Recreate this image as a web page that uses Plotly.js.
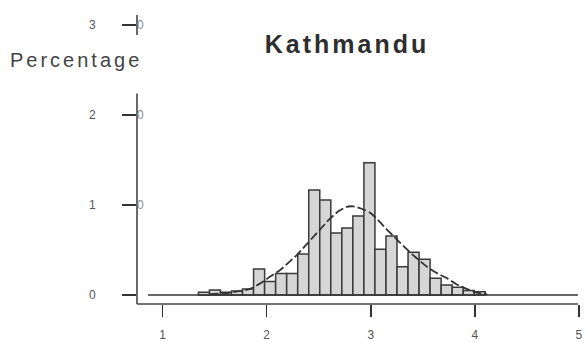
<!DOCTYPE html>
<html>
<head>
<meta charset="utf-8">
<script src="https://cdn.plot.ly/plotly-3.0.1.min.js"></script>
<style>
html,body{margin:0;padding:0;background:#fff;}
#chart{width:586px;height:342px;}
.gtitle{letter-spacing:3px;}
</style>
</head>
<body>
<div id="chart"></div>
<script>
// Histogram bins (centres) and heights (percentage)
const binCenters = [1.397,1.503,1.609,1.715,1.821,1.927,2.033,2.139,2.245,2.351,2.457,2.563,2.669,2.775,2.881,2.987,3.093,3.199,3.305,3.411,3.517,3.623,3.729,3.835,3.941,4.047];
const binHeights = [0.03,0.055,0.03,0.044,0.066,0.29,0.15,0.24,0.24,0.456,1.167,1.056,0.69,0.744,0.878,1.47,0.508,0.656,0.314,0.474,0.397,0.186,0.11,0.086,0.05,0.035];
const binWidth = 0.106;

// Fitted normal curve
const curveX = [1.45,1.6,1.72,1.84,1.94,2.03,2.13,2.21,2.29,2.37,2.45,2.53,2.61,2.69,2.77,2.83,2.87,2.94,3.0,3.08,3.16,3.24,3.32,3.43,3.54,3.64,3.74,3.84,3.94,4.04,4.12];
const curveY = [0.01,0.02,0.04,0.067,0.13,0.203,0.278,0.36,0.444,0.545,0.648,0.75,0.852,0.93,0.98,0.985,0.974,0.945,0.908,0.82,0.72,0.63,0.537,0.42,0.314,0.24,0.18,0.11,0.06,0.02,0.008];

// Zero baseline
const baseX = [0.86, 4.99];
const baseY = [0, 0];

const xTicks = [1,2,3,4,5];
const xTickText = ['1','2','3','4','5'];
const yTicks = [0,1,2,3];
const yTickText = ['0','1','2','3'];

const titleText = 'Kathmandu';
const yTitleText = 'Percentage';

const dark = '#333333';

const traces = [
  {
    type:'scatter', mode:'lines', x: baseX, y: baseY,
    line:{color:dark, width:1.6}, hoverinfo:'skip', showlegend:false
  },
  {
    type:'bar', x: binCenters, y: binHeights, width: binWidth,
    marker:{color:'#d6d6d6', line:{color:'#3a3a3a', width:1.5}},
    showlegend:false
  },
  {
    type:'scatter', mode:'lines', x: curveX, y: curveY,
    line:{color:dark, width:1.8, dash:'9px,3px', shape:'spline', smoothing:0.6},
    showlegend:false
  }
];

const layout = {
  width:586, height:342,
  margin:{l:137, r:3, t:10, b:38},
  paper_bgcolor:'#ffffff', plot_bgcolor:'#ffffff',
  showlegend:false,
  bargap:0,
  title:{
    text: titleText,
    font:{family:'Liberation Sans, Arial, sans-serif', size:25, color:'#2e2e2e', weight:'bold'},
    x: 347/586, xanchor:'center', xref:'container',
    y: 1-44/342, yanchor:'middle', yref:'container'
  },
  xaxis:{
    range:[0.754, 5.039],
    showgrid:false, zeroline:false, showline:false,
    tickmode:'array', tickvals:xTicks, ticktext:xTickText,
    ticks:'outside', ticklen:12, tickwidth:1.6, tickcolor:dark,
    ticklabelstandoff:8,
    tickfont:{family:'Liberation Sans, Arial, sans-serif', size:12, color:'#555'}
  },
  yaxis:{
    range:[-0.1, 3.1667],
    showgrid:false, zeroline:false, showline:false,
    tickmode:'array', tickvals:yTicks, ticktext:yTickText,
    ticks:'outside', ticklen:14, tickwidth:1.6, tickcolor:dark,
    ticklabelstandoff:24,
    tickfont:{family:'Liberation Sans, Arial, sans-serif', size:12, color:'#555'}
  },
  shapes:[
    {type:'line', xref:'paper', yref:'y', x0:0, x1:0, y0:-0.1, y1:2.24, line:{color:'#444', width:1.6}},
    {type:'line', xref:'paper', yref:'y', x0:0, x1:0, y0:2.89, y1:3.11, line:{color:'#444', width:1.6}},
    {type:'line', xref:'x', yref:'paper', x0:0.754, x1:4.99, y0:0, y1:0, line:{color:'#444', width:1.6}}
  ],
  annotations:[
    {text:yTitleText, xref:'paper', yref:'y', x:0, y:2.61, xanchor:'left', yanchor:'middle',
     xshift:-114, showarrow:false, font:{family:'Liberation Sans, Arial, sans-serif', size:20, color:'#444'}},
    {text:'0', xref:'paper', yref:'y', x:0, y:1, xanchor:'left', yanchor:'middle', xshift:-2, showarrow:false,
     font:{family:'Liberation Sans, Arial, sans-serif', size:12, color:'#888'}},
    {text:'0', xref:'paper', yref:'y', x:0, y:2, xanchor:'left', yanchor:'middle', xshift:-2, showarrow:false,
     font:{family:'Liberation Sans, Arial, sans-serif', size:12, color:'#888'}},
    {text:'0', xref:'paper', yref:'y', x:0, y:3, xanchor:'left', yanchor:'middle', xshift:-2, showarrow:false,
     font:{family:'Liberation Sans, Arial, sans-serif', size:12, color:'#888'}}
  ]
};

Plotly.newPlot('chart', traces, layout, {staticPlot:true, displayModeBar:false}).then(function(){
  document.querySelectorAll('.annotation-text').forEach(function(t){
    if (t.textContent === yTitleText) t.style.letterSpacing = '3px';
  });
});
</script>
</body>
</html>
